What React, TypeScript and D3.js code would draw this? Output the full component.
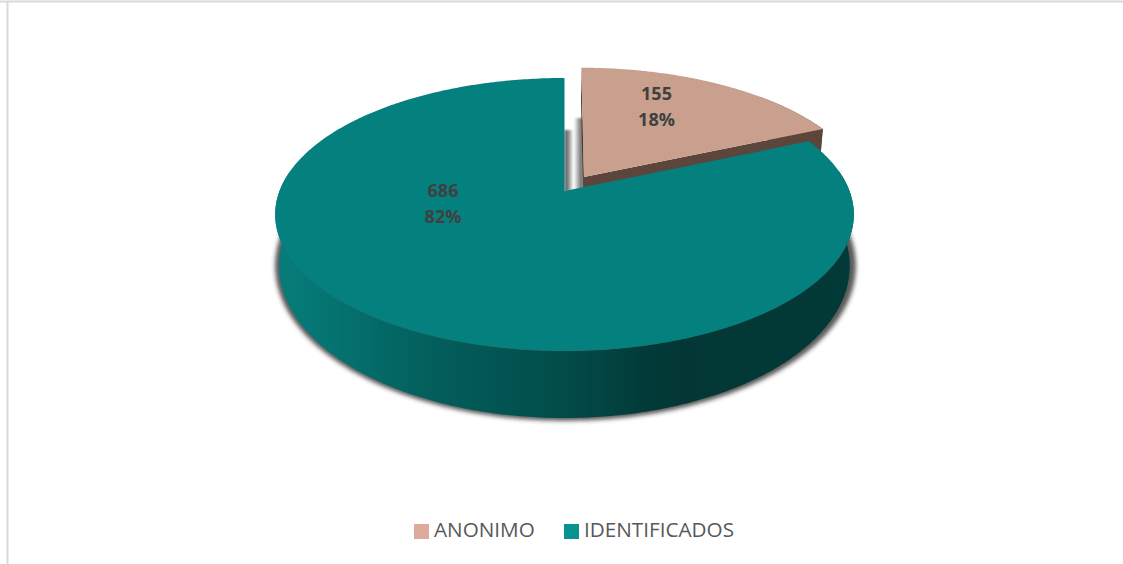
import React, { useMemo } from "react";
import * as d3 from "d3";

const categories = ["ANONIMO", "IDENTIFICADOS"];
const values = [155, 686];
const percents = ["18%", "82%"];
const topColors = ["#c9a08d", "#04807e"];
const legendColors = ["#dcab9b", "#089390"];

const W = 1123, H = 564;
const apex = { x: 564.5, y: 191 };
const R = 285;
const persp = 0.172;
const backDrop = 99.6;
const explode = { u: 0.064, v: 0.108, dx: 1.5 };
const mid = { x: 564, y: 214.5 };
const bottom = { cy: 266, sx: 0.986, sy: 1.114 };

type P = [number, number];

const project = (u: number, v: number): P => {
  const w = 1 + persp * v;
  return [apex.x + (R * u) / w, (apex.y - backDrop * v) / w];
};
const toBottom = ([x, y]: P): P => [
  mid.x + (x - mid.x) * bottom.sx,
  bottom.cy + (y - mid.y) * bottom.sy,
];
const rim = (a: number, du = 0, dv = 0): P => project(Math.sin(a) + du, Math.cos(a) + dv);
const sample = (a0: number, a1: number, n = 160): number[] =>
  d3.range(n + 1).map((i) => a0 + ((a1 - a0) * i) / n);

const closed = d3.line<P>().curve(d3.curveLinearClosed);

export default function App() {
  const arcs = useMemo(() => d3.pie<number>().sort(null)(values), []);
  const [tan, teal] = arcs;
  const du = explode.u, dv = explode.v;
  const shift = ([x, y]: P): P => [x + explode.dx, y];

  const tanApex = shift(project(du, dv));
  const tanRim = sample(tan.startAngle, tan.endAngle).map((a) => shift(rim(a, du, dv)));
  const tanTop = closed([tanApex, ...tanRim])!;
  const tanCut = closed([
    tanApex,
    tanRim[tanRim.length - 1],
    toBottom(tanRim[tanRim.length - 1]),
    toBottom(tanApex),
  ])!;
  const tanSide = closed([tanApex, tanRim[0], toBottom(tanRim[0]), toBottom(tanApex)])!;
  const tanOuterPts = tanRim.slice(110);
  const tanOuter = closed([...tanOuterPts, ...tanOuterPts.map(toBottom).reverse()])!;

  const tealTop = closed([
    project(0, 0),
    ...sample(teal.startAngle, teal.endAngle, 400).map((a) => rim(a)),
  ])!;

  const front = sample(Math.PI * 0.45, Math.PI * 1.55, 300).map((a) => rim(a));
  const tealWall = closed([...front, ...front.map(toBottom).reverse()])!;

  const shadowPts = sample(Math.PI * 0.44, Math.PI * 1.56, 300)
    .map((a) => rim(a))
    .map(toBottom)
    .map(([x, y]): P => [mid.x + (x - mid.x) * 1.018 + 1, bottom.cy + (y - bottom.cy) * 1.018]);
  const shadow = closed(shadowPts)!;

  const legendStart = [414, 564];
  const labelPos = [
    { x: 656.5, y: [100, 126] },
    { x: 443, y: [197, 223] },
  ];

  return (
    <svg
      width={W}
      height={H}
      viewBox={`0 0 ${W} ${H}`}
      style={{ position: "absolute", left: 0, top: 0, display: "block", background: "#fff" }}
    >
      <defs>
        <linearGradient id="wall" gradientUnits="userSpaceOnUse" x1={274} x2={853} y1={0} y2={0}>
          <stop offset="0" stopColor="#067e7b" />
          <stop offset="0.1" stopColor="#057370" />
          <stop offset="0.25" stopColor="#03615e" />
          <stop offset="0.42" stopColor="#025250" />
          <stop offset="0.52" stopColor="#024a47" />
          <stop offset="0.64" stopColor="#023b39" />
          <stop offset="0.7" stopColor="#023735" />
          <stop offset="1" stopColor="#023a38" />
        </linearGradient>
        <linearGradient id="gapA" x1="0" x2="1" y1="0" y2="0">
          <stop offset="0" stopColor="#4f4f4f" />
          <stop offset="0.45" stopColor="#8a8a8a" />
          <stop offset="1" stopColor="#ffffff" />
        </linearGradient>
        <linearGradient id="gapB" x1="0" x2="1" y1="0" y2="0">
          <stop offset="0" stopColor="#ffffff" />
          <stop offset="0.55" stopColor="#9a9a9a" />
          <stop offset="1" stopColor="#5a5a5a" />
        </linearGradient>
        <filter id="blur" x="-5%" y="-5%" width="110%" height="110%">
          <feGaussianBlur stdDeviation="2" />
        </filter>
        <filter id="blurS" x="-30%" y="-10%" width="160%" height="120%">
          <feGaussianBlur stdDeviation="0.8" />
        </filter>
      </defs>

      {/* frame */}
      <line x1={0} x2={W} y1={1.5} y2={1.5} stroke="#d9d9d9" strokeWidth={2} />
      <line x1={7.5} x2={7.5} y1={1} y2={H} stroke="#d9d9d9" strokeWidth={2} />

      {/* shadows */}
      <path d={shadow} fill="#2e2e2e" fillOpacity={0.8} filter="url(#blur)" />
      <rect x={apex.x} y={130} width={9} height={62} fill="url(#gapA)" filter="url(#blurS)" />
      <rect x={574} y={118} width={9} height={72} fill="url(#gapB)" filter="url(#blurS)" />

      {/* exploded slice */}
      <path d={tanSide} fill="#4a362d" />
      <path d={tanOuter} fill="#6c5348" />
      <path d={tanCut} fill="#5c463c" />
      <path d={tanTop} fill={topColors[0]} />

      {/* main slice */}
      <path d={tealWall} fill="url(#wall)" />
      <path d={tealTop} fill={topColors[1]} />

      {/* data labels */}
      {arcs.map((a, i) => (
        <g
          key={categories[i]}
          fontFamily="'Open Sans', sans-serif"
          fontWeight={700}
          fontSize={18}
          fill="#404040"
          textAnchor="middle"
        >
          <text x={labelPos[i].x} y={labelPos[i].y[0]}>{a.value}</text>
          <text x={labelPos[i].x} y={labelPos[i].y[1]}>{percents[i]}</text>
        </g>
      ))}

      {/* legend */}
      {categories.map((c, i) => (
        <g key={c}>
          <rect x={legendStart[i]} y={524} width={15} height={15} fill={legendColors[i]} />
          <text
            x={legendStart[i] + 20}
            y={537}
            fontFamily="'Open Sans', sans-serif"
            fontSize={20.7}
            fill="#595959"
          >
            {c}
          </text>
        </g>
      ))}
    </svg>
  );
}
